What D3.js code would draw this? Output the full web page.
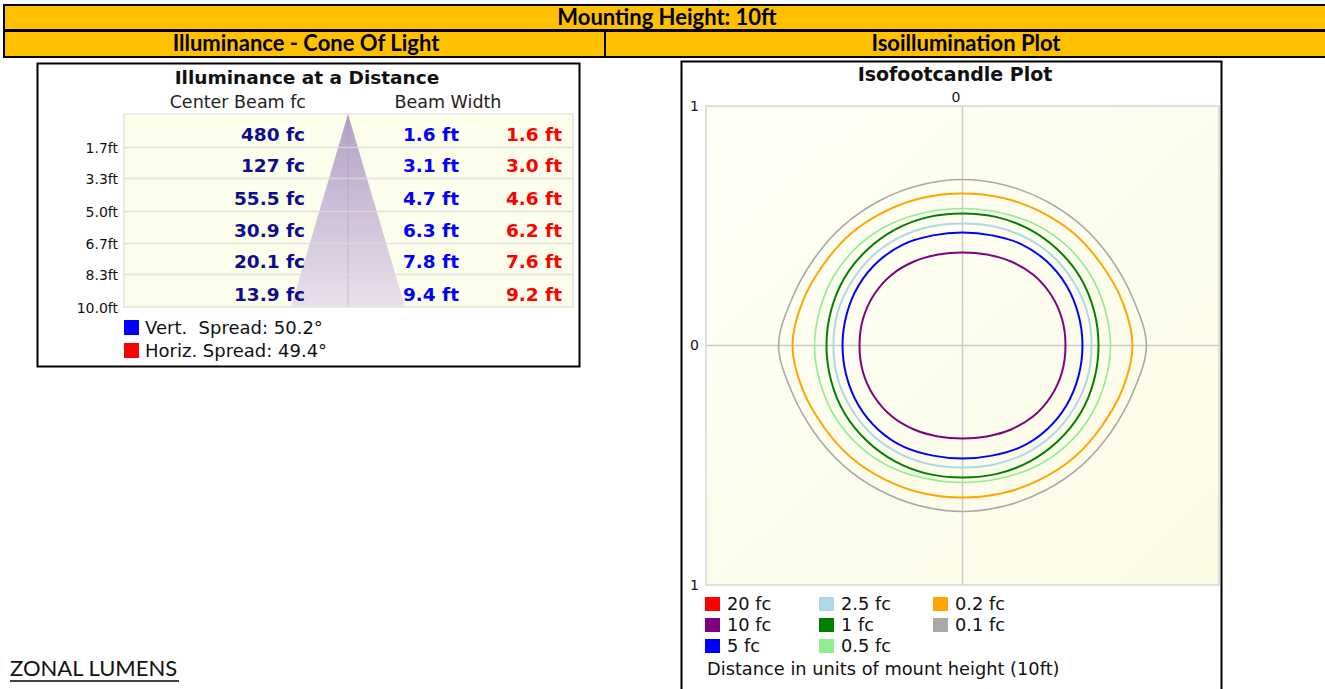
<!DOCTYPE html>
<html>
<head>
<meta charset="utf-8">
<script src="https://cdn.jsdelivr.net/npm/d3@7"></script>
<style>
  html, body { margin: 0; padding: 0; background: #ffffff; }
  svg { display: block; }
  text { white-space: pre; }
</style>
</head>
<body>
<svg id="chart" width="1325" height="689"></svg>
<script>
// ---------------- DATA ----------------
const headerTitle = "Mounting Height: 10ft";
const leftHeader = "Illuminance - Cone Of Light";
const rightHeader = "Isoillumination Plot";
const footerText = "ZONAL LUMENS";

const coneTitle = "Illuminance at a Distance";
const distances = [1.7, 3.3, 5.0, 6.7, 8.3, 10.0];
const distanceLabels = ["1.7ft", "3.3ft", "5.0ft", "6.7ft", "8.3ft", "10.0ft"];
const centerBeamFc = [480, 127, 55.5, 30.9, 20.1, 13.9];
const vertBeamWidth = [1.6, 3.1, 4.7, 6.3, 7.8, 9.4];
const horizBeamWidth = [1.6, 3.0, 4.6, 6.2, 7.6, 9.2];
const spreadLabels = ["Vert.  Spread: 50.2°", "Horiz. Spread: 49.4°"];
const spreadColors = ["#0000ff", "#ff0000"];

const isoTitle = "Isofootcandle Plot";
const isoLevels = ["20 fc", "10 fc", "5 fc", "2.5 fc", "1 fc", "0.5 fc", "0.2 fc", "0.1 fc"];
const isoColors = ["#ff0000", "#800080", "#0000ff", "#add8e6", "#008000", "#90ee90", "#ffa500", "#a9a9a9"];
const isoAxisNote = "Distance in units of mount height (10ft)";
// contour radius (units of mount height) at these angles, one quadrant; symmetric
const contourAngles = [0, 15, 30, 45, 60, 75, 90];
const contour10fc  = [0.430, 0.430, 0.426, 0.418, 0.405, 0.393, 0.388];
const contour5fc   = [0.501, 0.501, 0.501, 0.497, 0.489, 0.476, 0.472];
const contour2_5fc = [0.539, 0.539, 0.534, 0.530, 0.522, 0.514, 0.509];
const contour1fc   = [0.568, 0.568, 0.568, 0.564, 0.560, 0.555, 0.551];
const contour0_5fc = [0.618, 0.614, 0.610, 0.601, 0.589, 0.576, 0.572];
const contour0_2fc = [0.710, 0.693, 0.672, 0.660, 0.647, 0.639, 0.635];
const contour0_1fc = [0.768, 0.739, 0.718, 0.706, 0.697, 0.693, 0.693];

// ---------------- DRAW ----------------
const svg = d3.select("#chart");
const defs = svg.append("defs");
const hdrFont = "Lato, 'Liberation Sans', sans-serif";
const chartFont = "'DejaVu Sans', Verdana, sans-serif";

// Header bands
const gold = "#ffc000";
svg.append("rect").attr("x", 4).attr("y", 5).attr("width", 1340).attr("height", 25)
  .attr("fill", gold).attr("stroke", "#000").attr("stroke-width", 2);
svg.append("rect").attr("x", 4).attr("y", 31).attr("width", 601).attr("height", 26)
  .attr("fill", gold).attr("stroke", "#000").attr("stroke-width", 2);
svg.append("rect").attr("x", 605).attr("y", 31).attr("width", 740).attr("height", 26)
  .attr("fill", gold).attr("stroke", "#000").attr("stroke-width", 2);
svg.append("text").attr("x", 667).attr("y", 24.5).attr("text-anchor", "middle")
  .style("font", "bold 22px " + hdrFont).text(headerTitle);
svg.append("text").attr("x", 306).attr("y", 51).attr("text-anchor", "middle")
  .style("font", "bold 22px " + hdrFont).text(leftHeader);
svg.append("text").attr("x", 966).attr("y", 51).attr("text-anchor", "middle")
  .style("font", "bold 22px " + hdrFont).text(rightHeader);

// Footer
svg.append("text").attr("x", 10).attr("y", 676)
  .style("font", "22px " + hdrFont).attr("fill", "#111").text(footerText);
svg.append("line").attr("x1", 10).attr("x2", 179).attr("y1", 681).attr("y2", 681)
  .attr("stroke", "#000").attr("stroke-width", 1.5);

// ---------- Left panel: cone of light ----------
const L = svg.append("g");
L.append("rect").attr("x", 37.5).attr("y", 63.5).attr("width", 542).attr("height", 303)
  .attr("fill", "#fff").attr("stroke", "#000").attr("stroke-width", 2);
L.append("text").attr("x", 307).attr("y", 84).attr("text-anchor", "middle")
  .style("font", "bold 18.5px " + chartFont).attr("fill", "#111").text(coneTitle);
L.append("text").attr("x", 306).attr("y", 108).attr("text-anchor", "end")
  .style("font", "17.5px " + chartFont).attr("fill", "#222").text("Center Beam fc");
L.append("text").attr("x", 448).attr("y", 108).attr("text-anchor", "middle")
  .style("font", "17.5px " + chartFont).attr("fill", "#222").text("Beam Width");

const tblX0 = 124, tblX1 = 573;
const yD = d3.scaleLinear().domain([0, 10]).range([114, 307]);
const xW = d3.scaleLinear().domain([-5, 5]).range([348 - 60.6, 348 + 60.6]);

L.append("rect").attr("x", tblX0).attr("y", yD(0)).attr("width", tblX1 - tblX0)
  .attr("height", yD(10) - yD(0)).attr("fill", "#fdfdeb").attr("stroke", "#d8d8d8");

// cone gradient
const cg = defs.append("linearGradient").attr("id", "coneGrad")
  .attr("x1", 0).attr("y1", 0).attr("x2", 0).attr("y2", 1);
cg.append("stop").attr("offset", "0%").attr("stop-color", "#b3a0c6");
cg.append("stop").attr("offset", "100%").attr("stop-color", "#e9e0ec");

const conePts = [[0, 0]].concat(distances.map((d, i) => [vertBeamWidth[i] / 2, d]));
const coneLeft = distances.map((d, i) => [-vertBeamWidth[i] / 2, d]).reverse();
const conePoly = conePts.concat(coneLeft);
L.append("path")
  .attr("d", d3.line().x(p => xW(p[0])).y(p => yD(p[1]))(conePoly) + "Z")
  .attr("fill", "url(#coneGrad)");
L.append("line").attr("x1", xW(0)).attr("x2", xW(0)).attr("y1", yD(0.1)).attr("y2", yD(10))
  .attr("stroke", "#9d8aae").attr("stroke-opacity", 0.35).attr("stroke-width", 1);

// grid lines
L.selectAll("line.grid").data(distances.slice(0, -1)).join("line")
  .attr("class", "grid")
  .attr("x1", tblX0).attr("x2", tblX1)
  .attr("y1", d => Math.round(yD(d)) + 0.5).attr("y2", d => Math.round(yD(d)) + 0.5)
  .attr("stroke", "#dcdcdc").attr("stroke-width", 1.5).attr("stroke-opacity", 0.85);

// axis labels
const yAxis = d3.axisLeft(yD).tickValues(distances)
  .tickFormat((d, i) => distanceLabels[i]).tickSize(0).tickPadding(6);
const yAxG = L.append("g").attr("transform", `translate(${tblX0},0)`).call(yAxis);
yAxG.select(".domain").remove();
yAxG.selectAll("text").style("font", "14px " + chartFont).attr("fill", "#111").attr("dy", "0.4em");

// row values
const rowBase = (i) => yD(distances[i]) - 6;
L.selectAll("text.cb").data(centerBeamFc).join("text").attr("class", "cb")
  .attr("x", 305).attr("y", (d, i) => rowBase(i)).attr("text-anchor", "end")
  .style("font", "bold 18.5px " + chartFont).attr("fill", "#0d0d8f")
  .text(d => d + " fc");
L.selectAll("text.vw").data(vertBeamWidth).join("text").attr("class", "vw")
  .attr("x", 459).attr("y", (d, i) => rowBase(i)).attr("text-anchor", "end")
  .style("font", "bold 18.5px " + chartFont).attr("fill", "#0000ff")
  .text(d => d.toFixed(1) + " ft");
L.selectAll("text.hw").data(horizBeamWidth).join("text").attr("class", "hw")
  .attr("x", 562).attr("y", (d, i) => rowBase(i)).attr("text-anchor", "end")
  .style("font", "bold 18.5px " + chartFont).attr("fill", "#ff0000")
  .text(d => d.toFixed(1) + " ft");

// spread legend
const sl = L.selectAll("g.sl").data(spreadLabels).join("g").attr("class", "sl")
  .attr("transform", (d, i) => `translate(124,${320 + i * 23})`);
sl.append("rect").attr("width", 15).attr("height", 15).attr("fill", (d, i) => spreadColors[i]);
sl.append("text").attr("x", 21).attr("y", 14).style("font", "18px " + chartFont)
  .attr("fill", "#111").text(d => d);

// ---------- Right panel: isofootcandle plot ----------
const R = svg.append("g");
R.append("rect").attr("x", 681.5).attr("y", 61.5).attr("width", 540).attr("height", 640)
  .attr("fill", "#fff").attr("stroke", "#000").attr("stroke-width", 2);
R.append("text").attr("x", 955).attr("y", 81).attr("text-anchor", "middle")
  .style("font", "bold 19px " + chartFont).attr("fill", "#111").text(isoTitle);

const px0 = 706, px1 = 1219, py0 = 106, py1 = 585;
const aspect = (px1 - px0) / (py1 - py0);
const xI = d3.scaleLinear().domain([-aspect, aspect]).range([px0, px1]);
const yI = d3.scaleLinear().domain([-1, 1]).range([py1, py0]);

const bg = defs.append("linearGradient").attr("id", "plotGrad")
  .attr("x1", 0).attr("y1", 0).attr("x2", 1).attr("y2", 1);
bg.append("stop").attr("offset", "0%").attr("stop-color", "#fffff7");
bg.append("stop").attr("offset", "100%").attr("stop-color", "#fbfbe4");
R.append("rect").attr("x", px0).attr("y", py0).attr("width", px1 - px0).attr("height", py1 - py0)
  .attr("fill", "url(#plotGrad)").attr("stroke", "#d6d6d6").attr("stroke-width", 1.5);
R.append("line").attr("x1", xI(0)).attr("x2", xI(0)).attr("y1", py0).attr("y2", py1)
  .attr("stroke", "#cccccc").attr("stroke-width", 1.5);
R.append("line").attr("x1", px0).attr("x2", px1).attr("y1", yI(0)).attr("y2", yI(0))
  .attr("stroke", "#cccccc").attr("stroke-width", 1.5);

// axis labels
const yAxR = d3.axisLeft(yI).tickValues([-1, 0, 1]).tickFormat(d => Math.abs(d))
  .tickSize(0).tickPadding(7);
const gyR = R.append("g").attr("transform", `translate(${px0},0)`).call(yAxR);
gyR.select(".domain").remove();
gyR.selectAll("text").style("font", "14px " + chartFont).attr("fill", "#111");
const xAxR = d3.axisTop(xI).tickValues([0]).tickFormat(d => d).tickSize(0).tickPadding(4);
const gxR = R.append("g").attr("transform", `translate(-7,${py0})`).call(xAxR);
gxR.select(".domain").remove();
gxR.selectAll("text").style("font", "14px " + chartFont).attr("fill", "#111");

// contours
const contours = [
  { level: "0.1 fc", r: contour0_1fc, w: 1.6 },
  { level: "0.2 fc", r: contour0_2fc, w: 2 },
  { level: "0.5 fc", r: contour0_5fc, w: 1.6 },
  { level: "1 fc", r: contour1fc, w: 2 },
  { level: "2.5 fc", r: contour2_5fc, w: 2 },
  { level: "5 fc", r: contour5fc, w: 2 },
  { level: "10 fc", r: contour10fc, w: 2 }
];
function contourPoints(r) {
  const pts = [];
  contourAngles.forEach((a, i) => pts.push([a, r[i]]));
  contourAngles.slice(0, -1).reverse().forEach(a => pts.push([180 - a, r[contourAngles.indexOf(a)]]));
  contourAngles.slice(1).forEach(a => pts.push([180 + a, r[contourAngles.indexOf(a)]]));
  contourAngles.slice(1, -1).reverse().forEach(a => pts.push([360 - a, r[contourAngles.indexOf(a)]]));
  return pts.map(([a, rr]) => [rr * Math.cos(a * Math.PI / 180), rr * Math.sin(a * Math.PI / 180)]);
}
const lineGen = d3.line().x(p => xI(p[0])).y(p => yI(p[1])).curve(d3.curveCatmullRomClosed.alpha(0.5));
R.selectAll("path.contour").data(contours).join("path").attr("class", "contour")
  .attr("d", d => lineGen(contourPoints(d.r)))
  .attr("fill", "none")
  .attr("stroke", d => isoColors[isoLevels.indexOf(d.level)])
  .attr("stroke-width", d => d.w);

// legend
const legX = [705, 819, 933], legY = [597, 618, 639];
const lg = R.selectAll("g.leg").data(isoLevels).join("g").attr("class", "leg")
  .attr("transform", (d, i) => `translate(${legX[Math.floor(i / 3)]},${legY[i % 3]})`);
lg.append("rect").attr("width", 15).attr("height", 14).attr("fill", (d, i) => isoColors[i]);
lg.append("text").attr("x", 22).attr("y", 13).style("font", "17.8px " + chartFont)
  .attr("fill", "#111").text(d => d);
R.append("text").attr("x", 707).attr("y", 675).style("font", "17.8px " + chartFont)
  .attr("fill", "#111").text(isoAxisNote);
</script>
</body>
</html>
